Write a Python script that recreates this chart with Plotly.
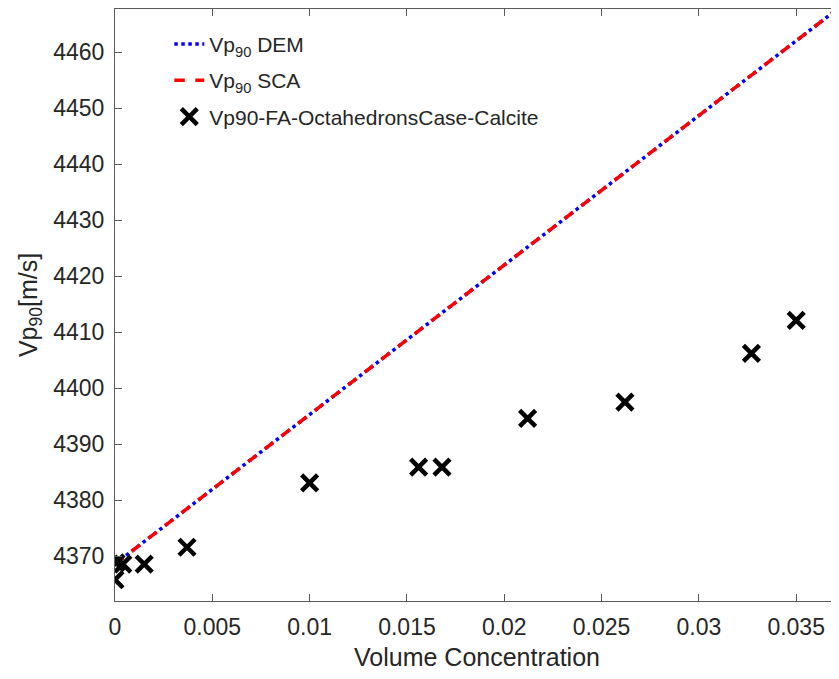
#!/usr/bin/env python3
"""Vp90 versus volume concentration: DEM / SCA models against FA data."""
import plotly.graph_objects as go

# model curves (DEM and SCA lie on top of each other)
conc_model = [0.0, 0.01, 0.02, 0.03, 0.0375]
vp_dem = [4368.6, 4395.3, 4422.0, 4448.8, 4468.7]
vp_sca = [4368.6, 4395.3, 4422.0, 4448.8, 4468.7]

# FA octahedrons case, calcite
conc_fa = [0.0, 0.00005, 0.0004, 0.0015, 0.0037, 0.0100, 0.0156, 0.0168,
           0.0212, 0.0262, 0.0327, 0.0350]
vp_fa = [4365.8, 4368.8, 4368.6, 4368.6, 4371.6, 4383.1, 4385.9, 4385.9,
         4394.6, 4397.5, 4406.2, 4412.1]

x_ticks = [0, 0.005, 0.01, 0.015, 0.02, 0.025, 0.03, 0.035]
x_tick_text = ["0", "0.005", "0.01", "0.015", "0.02", "0.025", "0.03", "0.035"]
y_ticks = [4370, 4380, 4390, 4400, 4410, 4420, 4430, 4440, 4450, 4460]

font_family = "Liberation Sans, Arial, sans-serif"
ink = "#262626"
axis_col = "#5a5a5a"

fig = go.Figure()
fig.add_trace(go.Scatter(
    x=conc_model, y=vp_dem, mode="lines", name="Vp<sub>90</sub> DEM",
    legendgroup="dem",
    line=dict(color="#0000ff", width=3.5, dash="dot"),
))
fig.add_trace(go.Scatter(
    x=conc_model, y=vp_sca, mode="lines", name="Vp<sub>90</sub> SCA",
    legendgroup="sca",
    line=dict(color="#ff0000", width=3.5, dash="dash"),
))
fig.add_trace(go.Scatter(
    x=conc_fa, y=vp_fa, mode="markers", name="Vp90-FA-OctahedronsCase-Calcite",
    legendgroup="fa",
    marker=dict(symbol="x-thin", size=16, color="black",
                line=dict(color="black", width=4.5)),
))

# page body has an 8px margin, so the figure is sized to stay inside the window
fig.update_layout(
    width=831,
    height=663,
    plot_bgcolor="white",
    paper_bgcolor="white",
    font=dict(family=font_family, size=23, color=ink),
    margin=dict(l=107, r=0, t=1, b=70),
    showlegend=True,
    legend=dict(
        x=0.075, y=0.975, xanchor="left", yanchor="top",
        bgcolor="rgba(0,0,0,0)", borderwidth=0,
        font=dict(size=21, color=ink), tracegroupgap=6,
    ),
)

fig.update_xaxes(
    range=[0, 0.0372],
    tickvals=x_ticks,
    ticktext=x_tick_text,
    ticks="inside", ticklen=7, tickcolor=axis_col,
    ticklabelstandoff=5,
    showline=True, linecolor=axis_col, linewidth=1, mirror="ticks",
    showgrid=False, zeroline=False,
    title=dict(text="Volume Concentration", font=dict(size=25), standoff=15),
)
fig.update_yaxes(
    range=[4362, 4467.7],
    tickvals=y_ticks,
    ticks="inside", ticklen=7, tickcolor=axis_col,
    ticklabelstandoff=5,
    showline=True, linecolor=axis_col, linewidth=1, mirror="ticks",
    showgrid=False, zeroline=False,
    title=dict(text="Vp<sub>90</sub>[m/s]", font=dict(size=25), standoff=8),
)

fig.write_html("out.html")
